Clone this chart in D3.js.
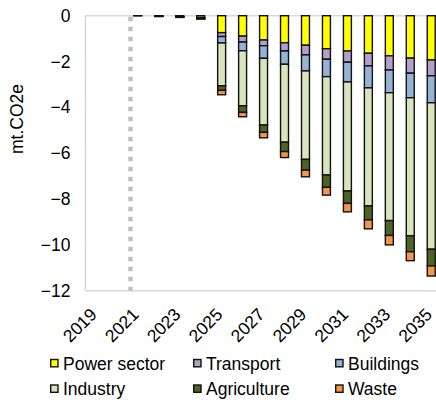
<!DOCTYPE html>
<html lang="en">
<head>
  <meta charset="utf-8" />
  <title>Emission reductions by sector</title>
  <script src="https://cdn.jsdelivr.net/npm/d3@7"></script>
  <style>
    body { margin: 0; background: #fff; }
    svg { display: block; font-family: "Liberation Sans", Arial, sans-serif; }
  </style>
</head>
<body>
  <div id="chart"></div>
  <script type="text/javascript">

    const w = 436;
    const h = 400;

    // data (mt.CO2e, negative = reduction)
    const years = ["2019","2020","2021","2022","2023","2024","2025","2026","2027",
                   "2028","2029","2030","2031","2032","2033","2034","2035"];
    const tickYears = ["2019","2021","2023","2025","2027","2029","2031","2033","2035"];
    const yTicks = [0, -2, -4, -6, -8, -10, -12];

    const power       = [0, 0, -0.01, -0.02, -0.04, -0.08, -0.74, -0.89, -1.06, -1.18, -1.29, -1.44, -1.54, -1.64, -1.75, -1.85, -1.93];
    const transport   = [0, 0, 0, -0.005, -0.01, -0.015, -0.17, -0.26, -0.25, -0.36, -0.42, -0.46, -0.49, -0.55, -0.62, -0.66, -0.69];
    const buildings   = [0, 0, 0, -0.005, -0.01, -0.015, -0.28, -0.38, -0.55, -0.58, -0.70, -0.76, -0.86, -0.96, -0.99, -1.07, -1.18];
    const industry    = [0, 0, 0, -0.005, -0.01, -0.02, -1.87, -2.40, -2.91, -3.40, -3.86, -4.29, -4.76, -5.15, -5.58, -6.02, -6.39];
    const agriculture = [0, 0, 0, 0, -0.005, -0.005, -0.20, -0.29, -0.32, -0.41, -0.47, -0.54, -0.54, -0.61, -0.65, -0.70, -0.73];
    const waste       = [0, 0, 0, 0, 0, -0.005, -0.19, -0.19, -0.24, -0.26, -0.29, -0.34, -0.37, -0.39, -0.41, -0.39, -0.44];

    const sectors = ["Power sector", "Transport", "Buildings", "Industry", "Agriculture", "Waste"];
    const sectorValues = [power, transport, buildings, industry, agriculture, waste];
    const colors = ["#ffff00", "#b1a0c7", "#95b3d7", "#d8e4bc", "#4f6228", "#f79646"];

    // dotted marker sits between 2020 and 2021
    const markerYear = "2020";
    const markerOffset = 0.65;

    // build rows for d3.stack
    const rows = years.map((y, i) => {
      const r = { year: y };
      sectors.forEach((s, j) => { r[s] = sectorValues[j][i]; });
      return r;
    });

    const svg = d3.select("#chart")
                  .append("svg")
                  .attr("width", w)
                  .attr("height", h);

    const plotLeft = 85.4, plotTop = 15.7, plotBottom = 290.7;

    const x = d3.scaleBand()
                .domain(years)
                .range([plotLeft, plotLeft + 17 * 20.96])
                .paddingInner(0.62)
                .paddingOuter(0.31);

    const y = d3.scaleLinear()
                .domain([0, -12])
                .range([plotTop, plotBottom]);

    const color = d3.scaleOrdinal().domain(sectors).range(colors);

    // plot frame lines (light grey)
    const frame = svg.append("g").attr("stroke", "#d9d9d9").attr("stroke-width", 1.6);
    frame.append("line").attr("x1", plotLeft).attr("x2", w).attr("y1", y(0)).attr("y2", y(0));
    frame.append("line").attr("x1", plotLeft).attr("x2", w).attr("y1", y(-12)).attr("y2", y(-12));
    frame.append("line").attr("x1", plotLeft).attr("x2", plotLeft).attr("y1", y(0)).attr("y2", y(-12));

    // dotted vertical marker
    const mx = x(markerYear) + x.bandwidth() / 2 + markerOffset * x.step();
    svg.append("line")
       .attr("x1", mx).attr("x2", mx)
       .attr("y1", y(0) + 1).attr("y2", y(-12))
       .attr("stroke", "#c0c0c0")
       .attr("stroke-width", 4.5)
       .attr("stroke-dasharray", "4.5,5.5");

    // stacked bars
    const stack = d3.stack()
                    .keys(sectors)
                    .offset(d3.stackOffsetDiverging);
    const series = stack(rows);

    svg.append("g")
       .selectAll("g")
       .data(series)
       .enter()
       .append("g")
       .attr("fill", d => color(d.key))
       .selectAll("rect")
       .data(d => d.filter(p => p[1] - p[0] !== 0))
       .enter()
       .append("rect")
       .attr("x", d => x(d.data.year))
       .attr("y", d => y(d[1]))
       .attr("width", x.bandwidth())
       .attr("height", d => y(d[0]) - y(d[1]))
       .attr("stroke", "#111")
       .attr("stroke-width", 1.4);

    // y axis labels
    const yAxis = svg.append("g")
       .attr("transform", `translate(${plotLeft},0)`)
       .call(d3.axisLeft(y).tickValues(yTicks).tickSize(0).tickPadding(15).tickFormat(d3.format("d")));
    yAxis.select(".domain").remove();
    yAxis.selectAll("text")
         .attr("font-size", "17.5px")
         .attr("font-family", "'Liberation Sans', Arial, sans-serif")
         .attr("fill", "#000");

    // x axis labels, rotated
    const xAxis = svg.append("g")
       .attr("transform", `translate(0,${plotBottom})`)
       .call(d3.axisBottom(x).tickValues(tickYears).tickSize(0));
    xAxis.select(".domain").remove();
    xAxis.selectAll("text")
         .attr("y", 0)
         .attr("dy", 0)
         .attr("transform", "translate(2,25) rotate(-45)")
         .attr("text-anchor", "end")
         .attr("font-size", "17.5px")
         .attr("font-family", "'Liberation Sans', Arial, sans-serif")
         .attr("fill", "#000");

    // y axis title
    svg.append("text")
       .attr("transform", "translate(23,119) rotate(-90)")
       .attr("text-anchor", "middle")
       .attr("font-size", "17.5px")
       .text("mt.CO2e");

    // legend
    const legendCols = [50, 193, 335];
    const legendRows = [369.5, 395];
    const legend = svg.append("g").attr("class", "legend");
    const items = legend.selectAll("g")
       .data(sectors)
       .enter()
       .append("g")
       .attr("transform", (d, i) => `translate(${legendCols[i % 3]},${legendRows[Math.floor(i / 3)]})`);
    items.append("rect")
         .attr("x", 0.7)
         .attr("y", -10)
         .attr("width", 7.3)
         .attr("height", 7.3)
         .attr("fill", d => color(d))
         .attr("stroke", "#111")
         .attr("stroke-width", 1.4);
    items.append("text")
         .attr("x", 13)
         .attr("y", 0)
         .attr("font-size", "17.5px")
         .text(d => d);

  </script>
</body>
</html>
